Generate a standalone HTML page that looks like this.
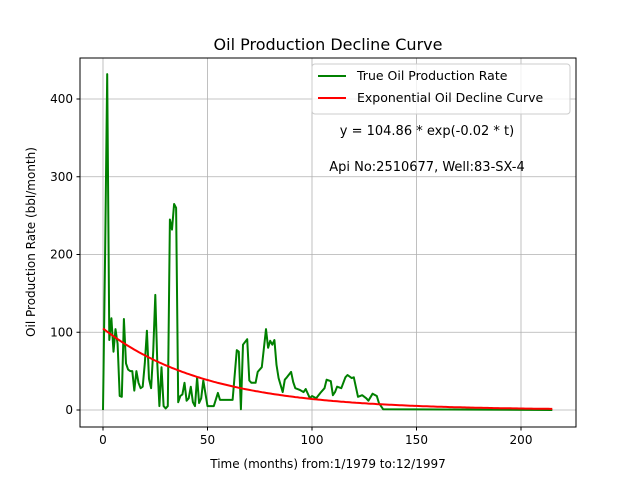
<!DOCTYPE html>
<html><head><meta charset="utf-8"><style>
body{margin:0;background:#fff;}
svg{font-family:"DejaVu Sans","Liberation Sans",sans-serif;}
</style></head><body>
<svg id="c" width="640" height="480" xmlns="http://www.w3.org/2000/svg">
<rect width="640" height="480" fill="#fff"/>
<text x="328" y="50" font-size="16" text-anchor="middle">Oil Production Decline Curve</text>
<g id="grid"></g>
<g id="series"></g>
<rect x="80" y="58" width="496" height="369" fill="none" stroke="#000" stroke-width="1"/>
<g id="ticks" font-size="12"></g>
<text x="328" y="468" font-size="12" text-anchor="middle">Time (months) from:1/1979 to:12/1997</text>
<text transform="translate(35,242) rotate(-90)" font-size="12" text-anchor="middle">Oil Production Rate (bbl/month)</text>
<g>
<rect x="312" y="64" width="258" height="50" rx="3" fill="#fff" fill-opacity="0.8" stroke="#ccc"/>
<line x1="318" y1="76" x2="346" y2="76" stroke="green" stroke-width="2"/>
<text x="357" y="80" font-size="12.5">True Oil Production Rate</text>
<line x1="318" y1="98" x2="346" y2="98" stroke="red" stroke-width="2"/>
<text x="357" y="102" font-size="12.5">Exponential Oil Decline Curve</text>
</g>
<text x="427" y="135" font-size="13" text-anchor="middle">y = 104.86 * exp(-0.02 * t)</text>
<text x="427" y="171" font-size="13" text-anchor="middle">Api No:2510677, Well:83-SX-4</text>
</svg>
<script>
const xTicks=[0,50,100,150,200];
const yTicks=[0,100,200,300,400];
const months=[0,1,2,3,4,5,6,7,8,9,10,11,12,13,14,15,16,17,18,19,20,21,22,23,24,25,26,27,28,29,30,31,32,33,34,35,36,37,38,39,40,41,42,43,44,45,46,47,48,50,51,53,55,56,58,60,62,64,65,66,67,69,70,71,73,74,76,78,79,80,81,82,83,84,86,87,88,90,91,92,94,96,97,99,100,102,104,106,107,109,110,111,112,114,116,117,119,120,122,124,126,127,129,131,132,134,215];
const rates=[0,200,432,90,118,75,104,85,18,17,117,60,52,50,50,25,50,35,28,30,60,102,40,28,75,148,60,5,55,5,2,5,245,232,265,260,10,18,20,35,12,15,30,10,5,42,9,15,38,5,5,5,22,13,13,13,13,77,75,1,84,91,38,35,35,49,55,104,80,89,84,90,58,41,23,39,42,49,36,28,26,23,27,15,18,15,22,28,39,37,19,23,30,28,42,45,41,42,17,19,15,12,21,18,9,1,0];
const fitA=[104.86];
const fitB=[-0.02];
const fitRange=[0,215];
const NS="http://www.w3.org/2000/svg";
const X=v=>103+v*2.09;
const Y=v=>410-v*0.7775;
const grid=document.getElementById('grid'),ticks=document.getElementById('ticks'),ser=document.getElementById('series');
function mk(tag,attrs,parent){const e=document.createElementNS(NS,tag);for(const k in attrs)e.setAttribute(k,attrs[k]);parent.appendChild(e);return e;}
xTicks.forEach(t=>{
  const g=mk('line',{x1:X(t),x2:X(t),y1:58,y2:427,stroke:'#b0b0b0','stroke-width':0.8},grid);
  
  
  mk('line',{x1:X(t),x2:X(t),y1:427,y2:430.5,stroke:'#000'},ticks);
  const tx=mk('text',{x:X(t),y:444,'text-anchor':'middle'},ticks);tx.textContent=t;
  
  
});
yTicks.forEach(t=>{
  const g=mk('line',{x1:80,x2:576,y1:Y(t),y2:Y(t),stroke:'#b0b0b0','stroke-width':0.8},grid);
  
  
  mk('line',{x1:76.5,x2:80,y1:Y(t),y2:Y(t),stroke:'#000'},ticks);
  const tx=mk('text',{x:73,y:Y(t)+4,'text-anchor':'end'},ticks);tx.textContent=t;
  
  
});
const n=Math.min(months.length,rates.length);
let gd='';for(let i=0;i<n;i++){gd+=(i?'L':'M')+X(months[i]).toFixed(1)+','+Y(rates[i]).toFixed(1);}
const p1=mk('path',{d:gd,fill:'none',stroke:'green','stroke-width':2,'stroke-linejoin':'round'},ser);


let d='';for(let t=fitRange[0];t<=fitRange[1];t++){d+=(t?'L':'M')+X(t).toFixed(1)+','+Y(fitA[0]*Math.exp(fitB[0]*t)).toFixed(1);}
const p2=mk('path',{d:d,fill:'none',stroke:'red','stroke-width':2},ser);


</script>
</body></html>
